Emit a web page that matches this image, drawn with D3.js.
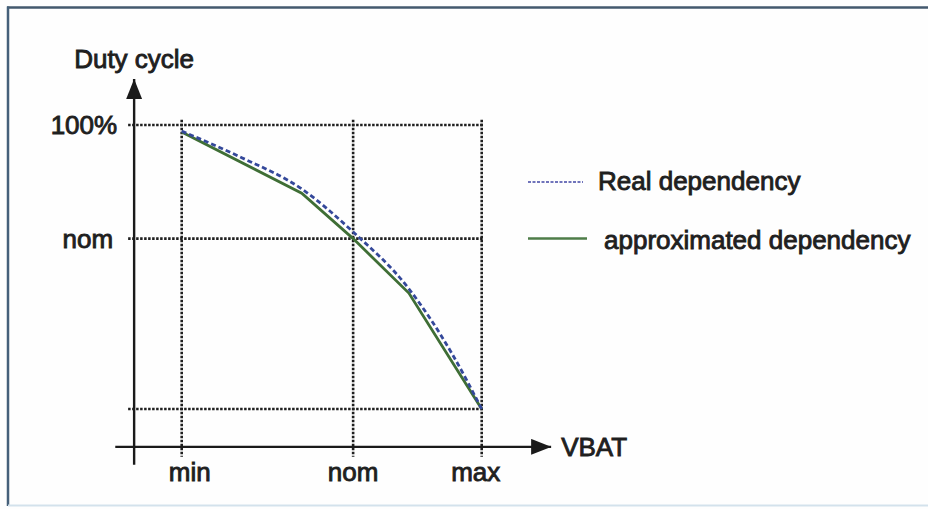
<!DOCTYPE html>
<html>
<head>
<meta charset="utf-8">
<script src="https://cdn.jsdelivr.net/npm/d3@7"></script>
<style>
  html, body { margin: 0; padding: 0; background: #ffffff; }
  svg { display: block; }
  text { font-family: "Liberation Sans", Arial, sans-serif; fill: #1f1f1f; stroke: #1f1f1f; stroke-width: 0.9px; paint-order: stroke; }
</style>
</head>
<body>
<div id="chart"></div>
<script>
// ---- data (arbitrary units) ----
const xTickValues = [9, 13, 16];            // VBAT: min, nom, max
const xTickLabels = ["min", "nom", "max"];
const yTickValues = [100, 76];              // duty cycle: 100%, nom
const yTickLabels = ["100%", "nom"];
const yGridValues = [100, 76, 40];          // horizontal dotted guides (incl. duty at max VBAT)

const realVbat = [9, 10.4, 11.8, 13, 14.3, 15.3, 16];
const realDuty = [98.7, 93.1, 86.5, 77.4, 65.4, 51.8, 40];

const approxVbat = [9, 11.8, 13, 14.3, 16];
const approxDuty = [98.5, 85.6, 76, 64.5, 40];

const seriesNames = ["Real dependency", "approximated dependency"];
const axisTitleY = "Duty cycle";
const axisTitleX = "VBAT";

// ---- layout ----
const W = 928, H = 509;
const svg = d3.select("#chart").append("svg").attr("width", W).attr("height", H);

// scales
const x = d3.scaleLinear().domain([9, 16]).range([181.7, 481.7]);
const y = d3.scaleLinear().domain([40, 100]).range([409, 125]);

// axis extents in data units
const xAxisStart = 7.45, xAxisEnd = 17.62, yAxisAtX = 7.89;
const yAxisBottom = 28.2, yAxisTop = 109.7, xAxisAtY = 32.0;
const gridXFrom = 7.75, gridYTop = 101.1, gridYBottom = 29.9;

// frame
svg.append("rect").attr("x", 0).attr("y", 0).attr("width", W).attr("height", H).attr("fill", "#fefefe").attr("stroke", "none");
svg.append("line").attr("x1", 7).attr("x2", W).attr("y1", 7.5).attr("y2", 7.5)
  .attr("stroke", "#43596e").attr("stroke-width", 2.5);
svg.append("line").attr("x1", 8).attr("x2", 8).attr("y1", 6.5).attr("y2", 506)
  .attr("stroke", "#45607a").attr("stroke-width", 2.5);
svg.append("line").attr("x1", 8).attr("x2", W).attr("y1", 505.5).attr("y2", 505.5)
  .attr("stroke", "#d3e2ec").attr("stroke-width", 2);

// arrow markers
const defs = svg.append("defs");
defs.append("marker").attr("id", "arrow").attr("viewBox", "0 0 20 16")
  .attr("refX", 20).attr("refY", 8).attr("markerWidth", 20).attr("markerHeight", 16)
  .attr("markerUnits", "userSpaceOnUse").attr("orient", "auto")
  .append("path").attr("d", "M0,0 L20,8 L0,16 Z").attr("fill", "#1a1a1a");

// dotted grid lines
const gridStyle = g => g.attr("stroke", "#1f1f1f").attr("stroke-width", 2.6).attr("stroke-dasharray", "2.5,1.5");
svg.append("g").selectAll("line").data(yGridValues).join("line")
  .attr("x1", x(gridXFrom)).attr("x2", x(16) + 1)
  .attr("y1", d => y(d)).attr("y2", d => y(d))
  .call(gridStyle);
svg.append("g").selectAll("line").data(xTickValues).join("line")
  .attr("x1", d => x(d)).attr("x2", d => x(d))
  .attr("y1", y(gridYTop)).attr("y2", y(gridYBottom))
  .call(gridStyle);

// axes
svg.append("line").attr("x1", x(xAxisStart)).attr("x2", x(xAxisEnd))
  .attr("y1", y(xAxisAtY)).attr("y2", y(xAxisAtY))
  .attr("stroke", "#1a1a1a").attr("stroke-width", 2.4).attr("marker-end", "url(#arrow)");
svg.append("line").attr("x1", x(yAxisAtX)).attr("x2", x(yAxisAtX))
  .attr("y1", y(yAxisBottom)).attr("y2", y(yAxisTop))
  .attr("stroke", "#1a1a1a").attr("stroke-width", 2.4).attr("marker-end", "url(#arrow)");

// curves
const realPts = realVbat.map((v, i) => [v, realDuty[i]]);
const approxPts = approxVbat.map((v, i) => [v, approxDuty[i]]);

svg.append("path").datum(approxPts)
  .attr("d", d3.line().x(d => x(d[0])).y(d => y(d[1])))
  .attr("fill", "none").attr("stroke", "#3f6e35").attr("stroke-width", 2.8);

svg.append("path").datum(realPts)
  .attr("d", d3.line().curve(d3.curveMonotoneX).x(d => x(d[0])).y(d => y(d[1])))
  .attr("fill", "none").attr("stroke", "#34489a").attr("stroke-width", 2.8)
  .attr("stroke-dasharray", "5,3");

// tick labels
const fs = 26;
svg.append("g").selectAll("text").data(xTickValues).join("text")
  .attr("x", (d, i) => x(d) + [8, 0, -6][i])
  .attr("y", 481)
  .attr("text-anchor", "middle").attr("font-size", fs)
  .text((d, i) => xTickLabels[i]);

svg.append("g").selectAll("text").data(yTickValues).join("text")
  .attr("x", (d, i) => x(yAxisAtX) + [-17, -21][i])
  .attr("y", d => y(d) + 9)
  .attr("text-anchor", "end").attr("font-size", fs)
  .text((d, i) => yTickLabels[i]);

// axis titles
svg.append("text").attr("x", x(yAxisAtX)).attr("y", 68)
  .attr("text-anchor", "middle").attr("font-size", fs).text(axisTitleY);
svg.append("text").attr("x", x(xAxisEnd) + 10).attr("y", y(xAxisAtY) + 9)
  .attr("text-anchor", "start").attr("font-size", fs).text(axisTitleX);

// legend
const legend = svg.append("g");
legend.append("line").attr("x1", 528).attr("x2", 583).attr("y1", 182).attr("y2", 182)
  .attr("stroke", "#7074bb").attr("stroke-width", 2).attr("stroke-dasharray", "3,1.5");
legend.append("text").attr("x", 598).attr("y", 190).attr("font-size", fs).text(seriesNames[0]);
legend.append("line").attr("x1", 528).attr("x2", 587).attr("y1", 238.5).attr("y2", 238.5)
  .attr("stroke", "#4e7d48").attr("stroke-width", 2.6);
legend.append("text").attr("x", 604).attr("y", 249).attr("font-size", fs).text(seriesNames[1]);
</script>
</body>
</html>
